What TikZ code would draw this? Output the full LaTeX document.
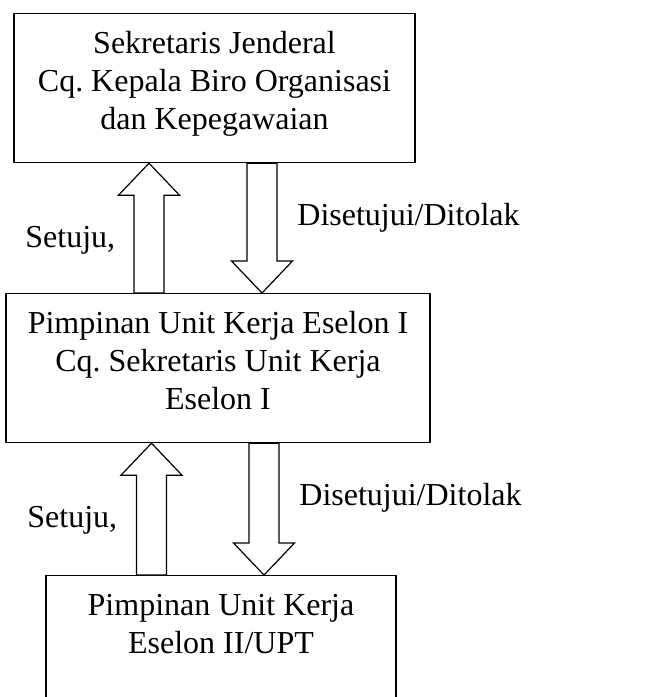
\documentclass[tikz,border=0pt]{standalone}
\usepackage{fontspec}
\setmainfont{Liberation Serif}

\tikzset{
  kotak/.style={draw, line width=0.6pt, anchor=north, inner xsep=0pt, inner ysep=0pt,
    align=center, font=\fontsize{16pt}{19pt}\selectfont},
  panah/.style={draw, line width=0.6pt, fill=white, line join=miter},
  ket/.style={inner sep=0pt, anchor=base west, font=\fontsize{16pt}{19pt}\selectfont}
}
% space above the first line and below the last line of a box
\newcommand{\atas}{\rule{0pt}{20pt}}
\newcommand{\bawah}[1]{\rule[-#1]{0pt}{0pt}}
% hollow block arrows: #1 x position, #2 start node, #3 end node
\newcommand{\naik}[3]{%
  \draw[panah] (#1 |- #3.south) -- ++(30.5,32) -- ++(-15.5,0) coordinate (r)
    -- (r |- #2.north) -- ++(-30,0) coordinate (l) -- (l |- r) -- ++(-15.5,0) -- cycle;}
\newcommand{\turun}[3]{%
  \draw[panah] (#1 |- #3.north) -- ++(30.5,-32) -- ++(-15.5,0) coordinate (r)
    -- (r |- #2.south) -- ++(-30,0) coordinate (l) -- (l |- r) -- ++(-15.5,0) -- cycle;}

\begin{document}
\begin{tikzpicture}[x=0.5pt, y=-0.5pt]
            \useasboundingbox (0,0) rectangle (652,697);

            \node[kotak, minimum width=200.5pt] (sekjen) at (214.5,13)
                {\atas Sekretaris Jenderal\\Cq.\ Kepala Biro Organisasi\\dan Kepegawaian\bawah{16.5pt}};
            \node[kotak, minimum width=212pt] (eselon1) at (218,293)
                {\atas Pimpinan Unit Kerja Eselon I\\Cq.\ Sekretaris Unit Kerja\\Eselon I\bawah{16.5pt}};
            \node[kotak, minimum width=175pt] (eselon2) at (221,575)
                {\atas Pimpinan Unit Kerja\\Eselon II/UPT\bawah{40pt}};

            \coordinate (naik1) at (149,0);
            \coordinate (turun1) at (262,0);
            \coordinate (naik2) at (151.5,0);
            \coordinate (turun2) at (264,0);

            \naik{naik1}{eselon1}{sekjen}
            \turun{turun1}{sekjen}{eselon1}
            \naik{naik2}{eselon2}{eselon1}
            \turun{turun2}{eselon1}{eselon2}

            \node[ket] (setuju1) at (25,247) {Setuju,};
            \node[ket] (putusan1) at (297,225) {Disetujui/Ditolak};
            \node[ket] (setuju2) at (27,527) {Setuju,};
            \node[ket] (putusan2) at (299,505) {Disetujui/Ditolak};

        \end{tikzpicture}
\end{document}
